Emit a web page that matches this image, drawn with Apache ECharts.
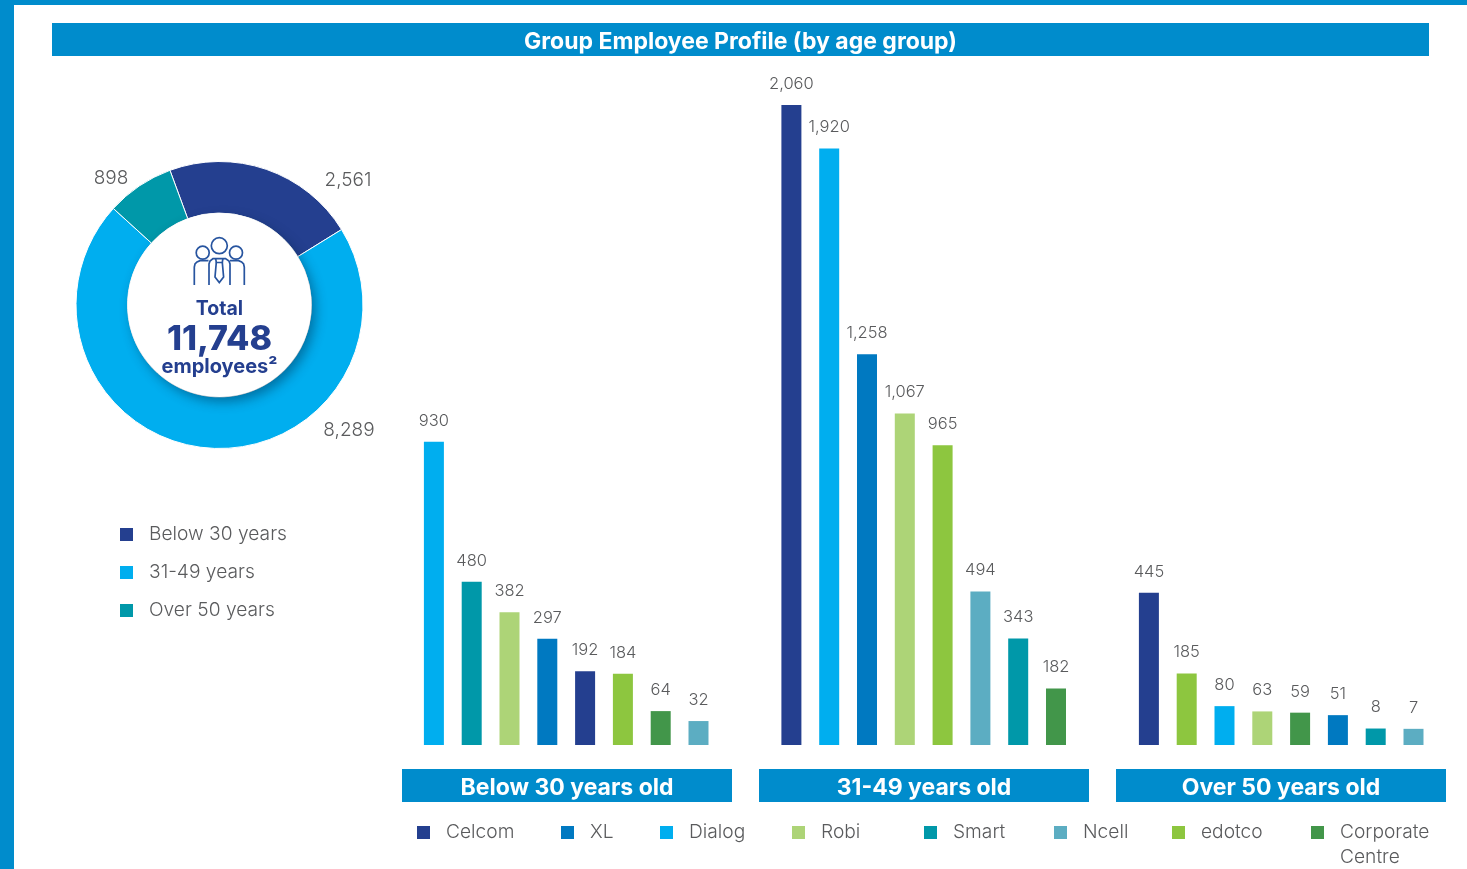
<!DOCTYPE html>
<html>
<head>
<meta charset="utf-8">
<title>Group Employee Profile</title>
<script src="https://cdn.jsdelivr.net/npm/echarts@6/dist/echarts.min.js"></script>
<style>
  html, body { margin: 0; padding: 0; background: #fff; }
  #chart { width: 1467px; height: 869px; }
</style>
</head>
<body>
<div id="chart"></div>
<script>
// Workforce split by age band
const ageBands = ['Below 30 years', '31-49 years', 'Over 50 years'];
const ageTotals = [2561, 8289, 898];
const ageColors = ['#243f8f', '#00aeef', '#0098a9'];
const totalEmployees = '11,748';

// Business units per age band, each listed from largest to smallest
const below30Units = ['Dialog', 'Smart', 'Robi', 'XL', 'Celcom', 'edotco', 'Corporate Centre', 'Ncell'];
const below30Values = [930, 480, 382, 297, 192, 184, 64, 32];
const middleUnits = ['Celcom', 'Dialog', 'XL', 'Robi', 'edotco', 'Ncell', 'Smart', 'Corporate Centre'];
const middleValues = [2060, 1920, 1258, 1067, 965, 494, 343, 182];
const over50Units = ['Celcom', 'edotco', 'Dialog', 'Robi', 'Corporate Centre', 'XL', 'Smart', 'Ncell'];
const over50Values = [445, 185, 80, 63, 59, 51, 8, 7];

const unitNames = ['Celcom', 'XL', 'Dialog', 'Robi', 'Smart', 'Ncell', 'edotco', 'Corporate Centre'];
const unitColors = ['#243f8f', '#0079c1', '#00aeef', '#add477', '#0098a9', '#5cadc2', '#8dc63f', '#42964a'];
const unitLegendLeft = [417, 561, 660, 792, 924, 1054, 1172, 1311];

const groupTitles = ['Below 30 years old', '31-49 years old', 'Over 50 years old'];
// The outer panels lift their bars on a small plinth so the shortest ones stay readable
const groupRows = [
  { units: below30Units, values: below30Values, left: 415, top: 90.5, plinth: 45 },
  { units: middleUnits, values: middleValues, left: 772.5, top: 105, plinth: 0 },
  { units: over50Units, values: over50Values, left: 1130, top: 90.5, plinth: 45 }
];

const brand = '#008ccc';
const ink = '#5a5b5d';
const navy = '#243f8f';
const iconBlue = '#27549f';
const bodyFont = 'Inter';
const fmt = v => v.toLocaleString('en-US');

const chart = echarts.init(document.getElementById('chart'));

const grids = groupRows.map(g => ({ left: g.left, width: 302.4, top: g.top, bottom: 124, containLabel: false }));
const xAxes = groupRows.map((g, i) => ({
  type: 'category', gridIndex: i, data: g.units,
  axisLine: { show: false }, axisTick: { show: false }, axisLabel: { show: false }, splitLine: { show: false }
}));
const yAxes = groupRows.map((g, i) => ({
  type: 'value', gridIndex: i, min: 0, max: 2060 + g.plinth, show: false, splitLine: { show: false }
}));

// One bar series per unit in each panel, so the legend entries span all three panels
const barSeries = [];
groupRows.forEach((g, gi) => {
  const stack = 'panel' + gi;
  if (g.plinth) {
    barSeries.push({
      type: 'bar', name: 'plinth' + gi, xAxisIndex: gi, yAxisIndex: gi, stack,
      barWidth: 20, silent: true,
      data: g.units.map(u => ({
        value: g.plinth,
        itemStyle: { color: unitColors[unitNames.indexOf(u)] }
      }))
    });
  }
  unitNames.forEach((unit, ui) => {
    barSeries.push({
      type: 'bar',
      name: unit,
      xAxisIndex: gi,
      yAxisIndex: gi,
      stack,
      barWidth: 20,
      itemStyle: { color: unitColors[ui] },
      label: {
        show: true, position: 'top', distance: 12.5, color: ink,
        fontFamily: bodyFont, fontWeight: 300, fontSize: 16.5,
        formatter: p => fmt(p.value)
      },
      data: g.units.map((u, k) => (u === unit ? g.values[k] : null))
    });
  });
});

const legendText = { color: ink, fontFamily: bodyFont, fontWeight: 300, fontSize: 19.2, padding: [0, 0, 0, 11] };

const unitLegends = unitNames.map((unit, i) => ({
  data: [unit], left: unitLegendLeft[i], top: 823, padding: 0,
  icon: 'rect', itemWidth: 13, itemHeight: 13, itemGap: 0, selectedMode: false,
  formatter: n => n.split(' ')[0],
  textStyle: legendText
}));

const agePieLabelSpots = [[348, 180], [349, 430], [111, 178]];

const banner = (x, y, w, h, text, size) => ([
  { type: 'rect', shape: { x, y, width: w, height: h }, style: { fill: brand }, silent: true, z: 1 },
  { type: 'text', x: x + w / 2, y: y + h / 2 + 3, z: 2, silent: true,
    style: { text, fill: '#fff', align: 'center', verticalAlign: 'middle',
             font: `700 ${size}px ${bodyFont}` } }
]);

// Outline figure of three staff members in the middle of the ring
const iconLine = { fill: 'none', stroke: iconBlue, lineWidth: 1.7 };
const head = (cx, cy, r) => ({ type: 'circle', z: 12, silent: true, shape: { cx, cy, r }, style: iconLine });
const outline = points => ({ type: 'polyline', z: 12, silent: true, shape: { points }, style: iconLine });
const staffIcon = [
  head(219.3, 245.7, 8),
  head(202.7, 252.7, 6.5),
  head(236, 252.7, 6.5),
  outline([[194.3, 285], [194.3, 267], [195, 264], [197, 262], [200, 260.7], [208.5, 260.7]]),
  outline([[244.3, 285], [244.3, 267], [243.6, 264], [241.6, 262], [238.6, 260.7], [230, 260.7]]),
  outline([[209, 285], [209, 264], [210, 261], [213, 258.6], [225.5, 258.6], [229, 261], [230, 264], [230, 285]]),
  outline([[215.7, 258.6], [216.3, 262.5], [222.3, 262.5], [222.9, 258.6]]),
  outline([[216.3, 262.5], [215, 277], [219.3, 282.5], [223.6, 277], [222.3, 262.5]])
];

const option = {
  animation: false,
  backgroundColor: '#fff',
  grid: grids,
  xAxis: xAxes,
  yAxis: yAxes,
  legend: [
    {
      data: ageBands, orient: 'vertical', left: 120, top: 525, padding: 0,
      icon: 'rect', itemWidth: 13, itemHeight: 13, itemGap: 19, selectedMode: false,
      itemStyle: { borderWidth: 0 },
      textStyle: legendText
    },
    ...unitLegends
  ],
  series: [
    {
      type: 'pie',
      name: 'Age bands',
      center: [219.5, 305],
      radius: [92, 143.5],
      startAngle: 110.2,
      clockwise: true,
      silent: true,
      itemStyle: { borderColor: '#fff', borderWidth: 1 },
      label: {
        show: true, color: ink, fontFamily: bodyFont, fontWeight: 300, fontSize: 19,
        formatter: p => fmt(p.value)
      },
      labelLine: { show: false },
      labelLayout: p => ({
        x: agePieLabelSpots[p.dataIndex][0],
        y: agePieLabelSpots[p.dataIndex][1],
        align: 'center', verticalAlign: 'middle'
      }),
      data: ageBands.map((n, i) => ({ name: n, value: ageTotals[i], itemStyle: { color: ageColors[i] } }))
    },
    ...barSeries
  ],
  graphic: [
    { type: 'rect', shape: { x: 0, y: 0, width: 1467, height: 5 }, style: { fill: brand }, silent: true },
    { type: 'rect', shape: { x: 0, y: 0, width: 14, height: 869 }, style: { fill: brand }, silent: true },
    ...banner(52, 23, 1377, 33, 'Group Employee Profile (by age group)', 23),
    ...banner(402, 769, 330, 33, groupTitles[0], 23),
    ...banner(759, 769, 330, 33, groupTitles[1], 23),
    ...banner(1116, 769, 330, 33, groupTitles[2], 23),
    { type: 'circle', z: 10, silent: true, shape: { cx: 219.5, cy: 305, r: 92 },
      style: { fill: '#fff', shadowBlur: 12, shadowOffsetX: 4, shadowOffsetY: 5, shadowColor: 'rgba(0,40,70,0.45)' } },
    ...staffIcon,
    { type: 'text', x: 219.5, y: 309, z: 12, silent: true,
      style: { text: 'Total', fill: navy, align: 'center', verticalAlign: 'middle', font: `700 19.5px ${bodyFont}` } },
    { type: 'text', x: 219.5, y: 340, z: 12, silent: true,
      style: { text: totalEmployees, fill: navy, align: 'center', verticalAlign: 'middle', font: `800 34px ${bodyFont}` } },
    { type: 'text', x: 219.5, y: 367, z: 12, silent: true,
      style: { text: 'employees\u00b2', fill: navy, align: 'center', verticalAlign: 'middle', font: `700 20px ${bodyFont}` } },
    { type: 'text', x: 1340, y: 857, z: 3, silent: true,
      style: { text: 'Centre', fill: ink, align: 'left', verticalAlign: 'middle', font: `300 19.2px ${bodyFont}` } }
  ]
};

chart.setOption(option);
</script>
</body>
</html>
